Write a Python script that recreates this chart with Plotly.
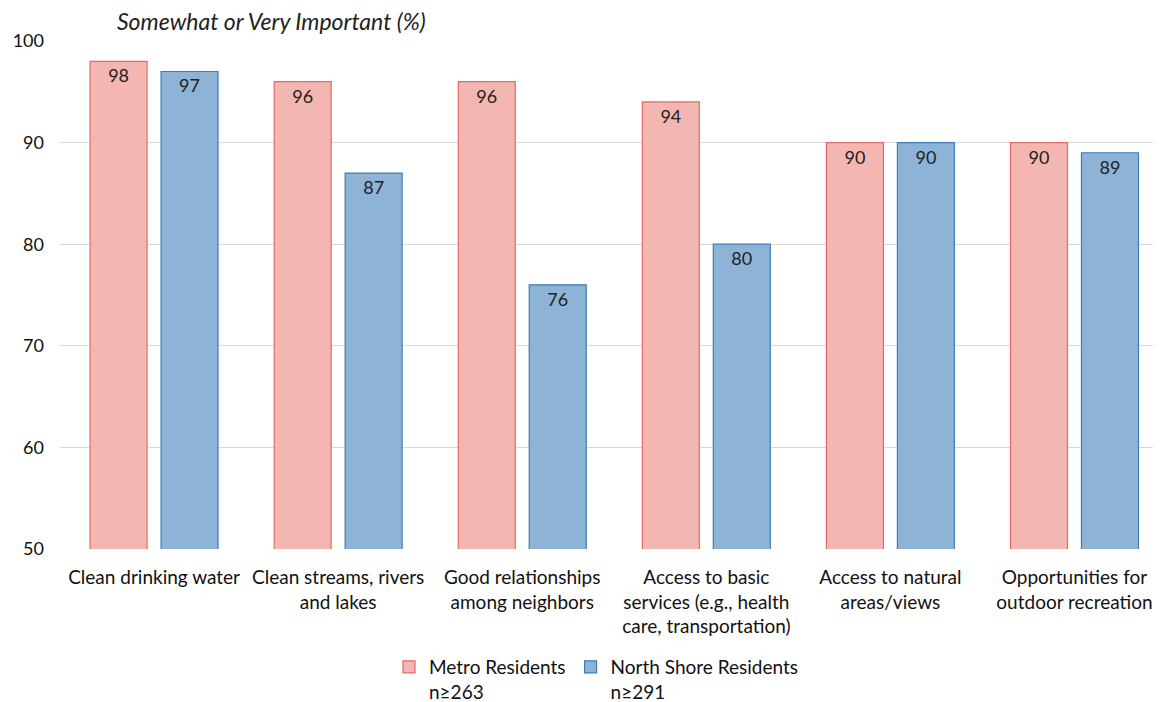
import plotly.graph_objects as go

categories = [
    "Clean drinking water",
    "Clean streams, rivers<br>and lakes",
    "Good relationships<br>among neighbors",
    "Access to basic<br>services (e.g., health<br>care, transportation)",
    "Access to natural<br>areas/views",
    "Opportunities for<br>outdoor recreation",
]
metro = [98, 96, 96, 94, 90, 90]
north_shore = [97, 87, 76, 80, 90, 89]
metro_name = "Metro Residents<br>n≥263"
north_name = "North Shore Residents<br>n≥291"
y_ticks = [50, 60, 70, 80, 90, 100]

FONT = "Lato, Open Sans, sans-serif"
OFF = 8  # page body margin
W, H = 1161 - OFF, 702 - OFF
ml, mr, mt, mb = 60 - OFF, 0, 41 - OFF, 702 - 549
ph = H - mt - mb
pw = W - ml - mr


def px_to_py(ypage):
    return (mt + ph - (ypage - OFF)) / ph


fig = go.Figure()
fig.add_trace(go.Bar(
    x=categories, y=metro, name=metro_name,
    marker=dict(color="#F3B6B1", line=dict(color="#E26B69", width=1.2)),
    text=metro, textposition="inside", insidetextanchor="end",
    textfont=dict(family=FONT, size=18, color="#222222"),
))
fig.add_trace(go.Bar(
    x=categories, y=north_shore, name=north_name,
    marker=dict(color="#8DB3D6", line=dict(color="#3E7DB6", width=1.2)),
    text=north_shore, textposition="inside", insidetextanchor="end",
    textfont=dict(family=FONT, size=18, color="#222222"),
))

fig.update_layout(
    width=W, height=H,
    margin=dict(l=ml, r=mr, t=mt, b=mb, autoexpand=False),
    paper_bgcolor="white", plot_bgcolor="white",
    barmode="group", bargap=0.229, bargroupgap=0.197,
    font=dict(family=FONT, size=19, color="#111111"),
    showlegend=True,
    legend=dict(
        orientation="h", x=(596 - 60) / pw, xanchor="center",
        y=px_to_py(648), yanchor="top",
        font=dict(family=FONT, size=19, color="#111111"),
        valign="top", itemwidth=30, tracegroupgap=0,
        bgcolor="rgba(0,0,0,0)",
    ),
    xaxis=dict(
        range=[-0.511, 5.470],
        showgrid=False, showline=False, ticks="", ticklabelstandoff=15,
        tickfont=dict(family=FONT, size=19, color="#111111"),
    ),
    yaxis=dict(
        range=[50, 100], tickvals=y_ticks, showgrid=True,
        gridcolor="#D9D9D9", gridwidth=1, zeroline=False, showline=False,
        ticks="", ticklabelstandoff=15,
        tickfont=dict(family=FONT, size=18, color="#111111"),
    ),
    annotations=[dict(
        text="<i>Somewhat or Very Important (%)</i>",
        xref="paper", yref="paper",
        x=(115 - 60) / pw, xanchor="left",
        y=px_to_py(21), yanchor="middle",
        showarrow=False,
        font=dict(family=FONT, size=23, color="#222222"),
    )],
)

fig.write_html("out.html")
